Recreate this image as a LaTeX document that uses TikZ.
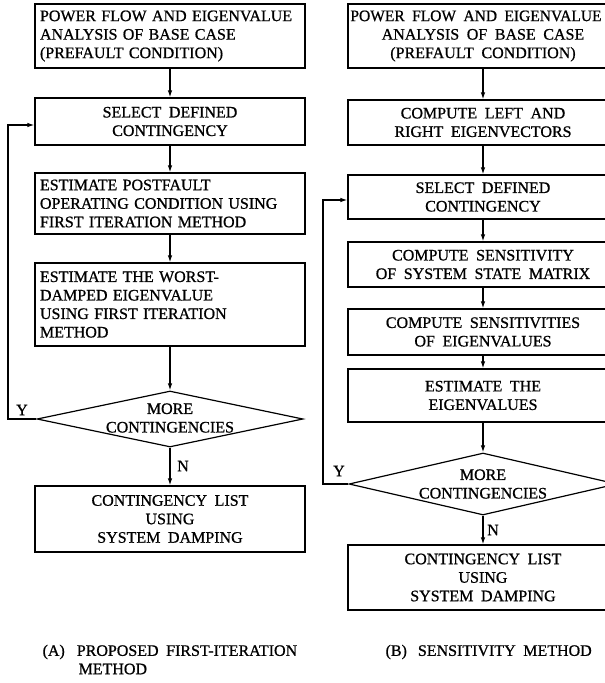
\documentclass[tikz,border=0pt]{standalone}
\usepackage{fontspec}
\setmainfont{Liberation Serif}[WordSpace=1.9, FakeBold=0.8]
\usetikzlibrary{shapes.geometric,arrows.meta}
\newcommand{\fs}{\fontsize{16pt}{18.5pt}\selectfont}
\begin{document}
\begin{tikzpicture}[x=1pt,y=-1pt, line width=1.2pt,
  box/.style={draw, minimum width=270pt, inner xsep=5pt, inner ysep=3pt, font=\fs},
  lbox/.style={box, text width=260pt, align=left},
  cbox/.style={box, align=center},
  dec/.style={draw, diamond, inner sep=0pt},
  arr/.style={-{Latex[length=7pt,width=4.5pt]}},
  lab/.style={font=\fs, inner sep=0pt}]
\clip (0,0) rectangle (605,683);
\fill[white] (0,0) rectangle (605,683);
% ---------------- column A ----------------
\node[lbox, minimum height=64pt] (a1) at (170,36) {POWER FLOW AND EIGENVALUE\\ANALYSIS OF BASE CASE\\(PREFAULT CONDITION)};
\node[cbox, minimum height=47pt] (a2) at (170,121.5) {SELECT DEFINED\\CONTINGENCY};
\node[lbox, minimum height=61pt] (a3) at (170,203.5) {ESTIMATE POSTFAULT\\OPERATING CONDITION USING\\FIRST ITERATION METHOD};
\node[lbox, minimum height=83pt] (a4) at (170,304.5) {ESTIMATE THE WORST-\\DAMPED EIGENVALUE\\USING FIRST ITERATION\\METHOD};
\node[dec, minimum width=266pt, minimum height=56pt] (dA) at (170,419) {};
\node[lab, align=center] (dAt) at (170,418) {MORE\\CONTINGENCIES};
\node[cbox, minimum height=66pt] (a5) at (170,519) {CONTINGENCY LIST\\USING\\SYSTEM DAMPING};
\draw[arr] (a1) -- (a2);
\draw[arr] (a2) -- (a3);
\draw[arr] (a3) -- (a4);
\draw[arr] (a4) -- (dA.north);
\draw[arr] (dA.south) -- (a5);
\coordinate (ya) at (8,125);
\draw[arr] (dA.west) -| (ya) -- (a2.west |- ya);
\node[lab] (yA) at (22,410) {Y};
\node[lab] (nA) at (183,466) {N};
% ---------------- column B ----------------
\node[cbox, minimum height=64pt] (b1) at (483,36) {\hspace*{-14pt}\scalebox{0.97}[1]{POWER FLOW AND EIGENVALUE}\\ANALYSIS OF BASE CASE\\(PREFAULT CONDITION)};
\node[cbox, minimum height=45pt] (b2) at (483,122.5) {COMPUTE LEFT AND\\RIGHT EIGENVECTORS};
\node[cbox, minimum height=44pt] (b3) at (483,197) {SELECT DEFINED\\CONTINGENCY};
\node[cbox, minimum height=45pt] (b4) at (483,264.5) {COMPUTE SENSITIVITY\\OF SYSTEM STATE MATRIX};
\node[cbox, minimum height=46pt] (b5) at (483,332) {COMPUTE SENSITIVITIES\\OF EIGENVALUES};
\node[cbox, minimum height=53pt] (b6) at (483,395.5) {ESTIMATE THE\\EIGENVALUES};
\node[dec, minimum width=268pt, minimum height=62pt] (dB) at (483,484) {};
\node[lab, align=center] (dBt) at (483,484) {MORE\\CONTINGENCIES};
\node[cbox, minimum height=65pt] (b7) at (483,577.5) {CONTINGENCY LIST\\USING\\SYSTEM DAMPING};
\draw[arr] (b1) -- (b2);
\draw[arr] (b2) -- (b3);
\draw[arr] (b3) -- (b4);
\draw[arr] (b4) -- (b5);
\draw[arr] (b5) -- (b6);
\draw[arr] (b6) -- (dB.north);
\draw[arr] (dB.south) -- (b7);
\coordinate (yb) at (323,200);
\draw[arr] (dB.west) -| (yb) -- (b3.west |- yb);
\node[lab] (yB) at (339,471) {Y};
\node[lab] (nB) at (493,530) {N};
% ---------------- captions ----------------
\node[lab, anchor=west] (capA) at (42,652) {(A)\hspace{12pt}PROPOSED FIRST-ITERATION};
\node[lab, anchor=west] (capA2) at (78,669) {METHOD};
\node[lab, anchor=west] (capB) at (385,652) {(B)\hspace{11pt}SENSITIVITY METHOD};
\end{tikzpicture}
\end{document}
